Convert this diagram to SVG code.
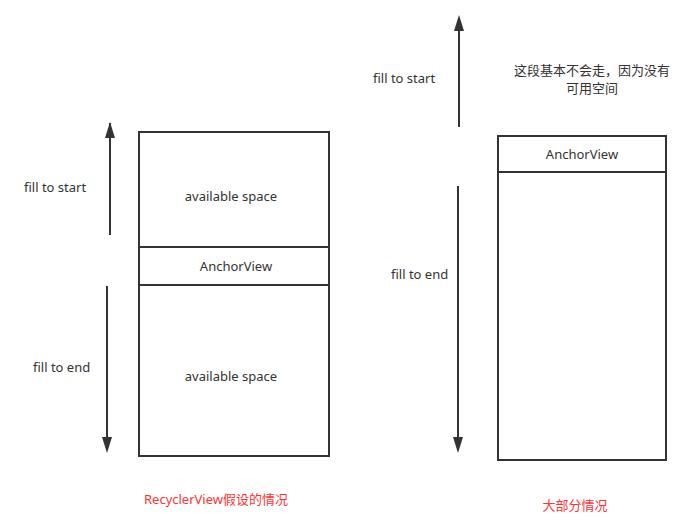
<svg xmlns="http://www.w3.org/2000/svg" width="693" height="532" viewBox="0 0 693 532">
<style>
text{font-family:"Noto Sans","Noto Sans CJK SC",sans-serif;font-size:13px;fill:#333}
.c{text-anchor:middle}
.red{fill:#ff3333}
.box{fill:#fff;stroke:#333;stroke-width:2}
.ln{stroke:#333;stroke-width:2;fill:none}
</style>
<rect width="693" height="532" fill="#fff"/>
<g id="left-top">
<rect class="box" x="139" y="132" width="190" height="115"/>
<text class="c" x="231" y="201">available space</text>
</g>
<g id="left-anchor">
<rect class="box" x="139" y="247" width="190" height="38"/>
<text class="c" x="236" y="271">AnchorView</text>
</g>
<g id="left-bottom">
<rect class="box" x="139" y="285" width="190" height="171"/>
<text class="c" x="231" y="381">available space</text>
</g>
<g id="right-anchor">
<rect class="box" x="498" y="136" width="168" height="36"/>
<text class="c" x="582" y="159">AnchorView</text>
</g>
<g id="right-body">
<rect class="box" x="498" y="172" width="168" height="288"/>
</g>
<g id="connectors">
<line class="ln" x1="110" y1="235" x2="110" y2="123"/>
<path d="M110,122 L115,138 L105,138 Z" fill="#333"/>
<line class="ln" x1="107" y1="286" x2="107" y2="440"/>
<path d="M107,453 L112,437 L102,437 Z" fill="#333"/>
<line class="ln" x1="459" y1="127" x2="459" y2="30"/>
<path d="M459,15 L464,31 L454,31 Z" fill="#333"/>
<line class="ln" x1="458" y1="186" x2="458" y2="440"/>
<path d="M458,453 L463,437 L453,437 Z" fill="#333"/>
</g>
<g id="labels">
<text x="24" y="192">fill to start</text>
<text x="33" y="372">fill to end</text>
<text x="373" y="83">fill to start</text>
<text x="391" y="279">fill to end</text>
<text class="c" x="592" y="75" font-size="12.5">这段基本不会走，因为没有</text>
<text class="c" x="592" y="93" font-size="12.5">可用空间</text>
<text class="c red" x="216" y="504">RecyclerView假设的情况</text>
<text class="c red" x="575" y="510">大部分情况</text>
</g>
</svg>
